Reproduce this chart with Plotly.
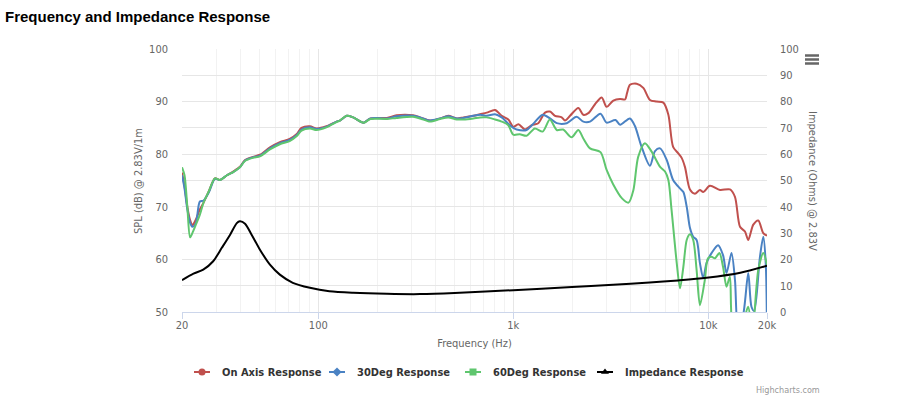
import plotly.graph_objects as go

# ---------------- data ----------------
freq_lo = [20, 20.6, 21.3, 22.0, 22.6, 23.5, 24.7, 25.8, 27.5, 29.5,
           31.3, 34, 36.6, 39.6, 42.1, 46.2, 50.2, 56.5, 63.5, 71.3,
           77.3, 82, 90.6, 98, 110, 124, 129, 140, 151, 171,
           185, 225, 252, 306, 333, 374, 421, 464, 513, 555,
           624, 675, 731, 806, 872, 943]
on_axis_lo = [76.5, 74, 70, 67.5, 66.5, 67.5, 69.5, 70.8, 73.0, 75.4,
              75.1, 76.0, 76.7, 77.6, 78.9, 79.5, 79.9, 81.3, 82.3, 82.9,
              83.8, 85.0, 85.3, 84.9, 85.3, 86.2, 86.4, 87.3, 87.0, 86.0,
              86.8, 86.9, 87.4, 87.4, 87.0, 86.4, 86.8, 87.3, 86.8, 87.0,
              87.3, 87.6, 87.9, 88.4, 87.3, 86.6]
deg30_lo = [76.0, 73.5, 69.5, 67, 66.2, 66.8, 71.0, 71.2, 72.8, 75.3,
            75.1, 76.0, 76.6, 77.5, 78.8, 79.4, 79.7, 81.1, 82.1, 82.7,
            83.6, 84.7, 85.1, 84.8, 85.2, 86.2, 86.4, 87.3, 87.0, 86.0,
            86.8, 86.8, 87.2, 87.3, 87.0, 86.4, 86.8, 87.2, 86.8, 86.9,
            87.3, 87.5, 87.3, 87.6, 87.0, 85.8]
deg60_lo = [77.5, 76, 70, 64.2, 65, 66.5, 68.5, 70.8, 73.0, 75.4,
            75.1, 76.0, 76.6, 77.5, 78.7, 79.3, 79.6, 80.9, 81.9, 82.5,
            83.4, 84.5, 84.9, 84.6, 85.1, 86.1, 86.4, 87.3, 87.0, 86.0,
            86.7, 86.7, 86.9, 87.1, 86.8, 86.2, 86.7, 87.0, 86.6, 86.6,
            86.8, 87.0, 87.0, 86.6, 86.2, 85.5]

freq_on_hi = [1000, 1062, 1148, 1242, 1343, 1454, 1542, 1636, 1771, 1841,
              1954, 2155, 2286, 2425, 2625, 2840, 3010, 3258, 3526, 3740,
              3830, 3966, 4290, 4641, 5021, 5430, 5883, 6240, 6600, 7000,
              7300, 7600, 8050, 8540, 9060, 9420, 10190, 11480, 12910, 13700,
              14540, 15420, 16030, 17010, 18040, 19140, 20000]
on_axis_hi = [85.2, 85.7, 84.7, 85.5, 85.9, 87.9, 88.1, 87.3, 87.0, 86.4,
              87.3, 88.8, 87.5, 87.8, 89.5, 90.8, 89.0, 90.2, 90.5, 90.4,
              91.6, 93.2, 93.4, 92.6, 90.3, 90.0, 89.8, 87.5, 81.4, 80.2,
              79.3, 77.5, 73.3, 72.5, 73.2, 72.8, 74.0, 73.2, 73.3, 71.9,
              66.2, 65.3, 63.7, 66.6, 67.4, 65.0, 64.5]

freq_30_hi = [1000, 1040, 1170, 1260, 1415, 1542, 1670, 1880, 2110, 2286,
              2475, 2800, 3010, 3340, 3530, 3960, 4200, 4530, 5020, 5330,
              5660, 6120, 6600, 7150, 7450, 7750, 8050, 8370, 8710, 9060,
              9420, 9790, 10390, 11230, 11900, 12400, 13150, 13700, 14200, 15100,
              16030, 16650, 17200, 18390, 19140, 19700, 20000]
deg30_hi = [85.0, 84.7, 84.6, 85.7, 87.5, 86.8, 85.9, 85.9, 87.1, 86.2,
            86.2, 87.7, 86.0, 86.5, 85.6, 86.8, 85.4, 81.6, 77.8, 80.6,
            81.1, 78.9, 75.1, 73.5, 72.8, 70.0, 66.0, 64.3, 63.7, 59.3,
            56.4, 59.3, 61.2, 62.7, 60.8, 57.4, 61.2, 56.1, 47, 49.5,
            57.4, 51.0, 50.2, 60.4, 64.3, 59.3, 46]

freq_60_hi = [1000, 1080, 1170, 1290, 1415, 1540, 1670, 1800, 1990, 2155,
              2286, 2475, 2800, 3010, 3250, 3610, 3900, 4130, 4370, 4730,
              5120, 5660, 6000, 6240, 6480, 6890, 7160, 7450, 7750, 8050,
              8370, 8710, 9060, 9600, 9960, 10390, 10800, 11400, 11900, 12400,
              12900, 13400, 14500, 16000, 16800, 18040, 19140, 20000]
deg60_hi = [83.7, 83.8, 83.5, 84.9, 84.3, 86.6, 84.6, 84.7, 83.2, 84.6,
            83.0, 81.1, 80.4, 77.0, 74.3, 71.6, 70.8, 73.2, 79.5, 82.1,
            80.5, 77.6, 76.7, 75.1, 69.4, 59.3, 54.5, 58.6, 63.7, 64.8,
            63.7, 58.0, 51.3, 56.1, 60.2, 60.5, 60.2, 61.2, 58.6, 54.8,
            56.7, 47, 46, 51, 46, 58.0, 61.2, 59.0]

freq_imp = [20, 22.9, 25.7, 28.9, 32, 35.3, 38.2, 39.6, 42.1, 45.5,
            50.2, 56.5, 63.5, 74, 90.6, 114, 151, 225, 333, 500,
            1000, 2000, 3250, 5000, 7000, 9800, 14600, 20000]
impedance = [12.1, 14.6, 16.1, 19.3, 24.4, 29.4, 33.8, 34.5, 33.6, 29.4,
             23.7, 18.0, 14.2, 11.1, 9.2, 7.9, 7.3, 6.9, 6.8, 7.2,
             8.3, 9.5, 10.4, 11.2, 12.0, 13.0, 14.9, 17.6]

series_names = ["On Axis Response", "30Deg Response", "60Deg Response", "Impedance Response"]
series_colors = ["#c0504d", "#4a82c3", "#5fc66e", "#000000"]
series_symbols = ["circle", "diamond", "square", "triangle-up"]

x_tickvals = [20, 100, 1000, 10000, 20000]
x_ticktext = ["20", "100", "1k", "10k", "20k"]
x_minor = [30, 40, 50, 60, 70, 80, 90, 200, 300, 400, 500, 600, 700, 800, 900,
           2000, 3000, 4000, 5000, 6000, 7000, 8000, 9000]

# ---------------- figure ----------------
W, H = 902, 406
L, R, T, B = 182, 135, 49, 94
PW, PH = W - L - R, H - T - B


def px(x):
    return (x - L) / PW


def py(y):
    return (H - B - y) / PH


FONT = "DejaVu Sans Condensed, DejaVu Sans, sans-serif"
fig = go.Figure()

spl_sets = [
    (freq_lo + freq_on_hi, on_axis_lo + on_axis_hi),
    (freq_lo + freq_30_hi, deg30_lo + deg30_hi),
    (freq_lo + freq_60_hi, deg60_lo + deg60_hi),
]
legend_ids = ["legend", "legend2", "legend3", "legend4"]
for i, (fx, fy) in enumerate(spl_sets):
    fig.add_trace(go.Scatter(
        x=fx, y=fy, mode="lines", name=series_names[i], legendgroup=series_names[i],
        showlegend=False, line=dict(color=series_colors[i], width=2, shape="spline", smoothing=0.8),
        hoverinfo="x+y"))
fig.add_trace(go.Scatter(
    x=freq_imp, y=impedance, mode="lines", name=series_names[3], legendgroup=series_names[3],
    showlegend=False, yaxis="y2",
    line=dict(color=series_colors[3], width=2, shape="spline", smoothing=0.8)))

# legend entries with markers (one legend per entry for Highcharts-like spacing)
for i in range(4):
    fig.add_trace(go.Scatter(
        x=[None], y=[None], mode="markers", name=series_names[i],
        legendgroup=series_names[i], legend=legend_ids[i],
        marker=dict(symbol=series_symbols[i], size=7, color=series_colors[i]),
        yaxis="y2" if i == 3 else "y"))

legend_text_x = [222, 357, 493, 625]
LEG_Y = 372
legend_style = dict(font=dict(family=FONT, size=11, color="#333", weight="bold"),
                    itemwidth=30, bgcolor="rgba(0,0,0,0)", orientation="h",
                    xanchor="left", yanchor="middle", y=py(LEG_Y))
legends = {lid: dict(legend_style, x=px(tx - 40)) for lid, tx in zip(legend_ids, legend_text_x)}

# short Highcharts-style legend line behind each legend marker
legend_lines = [dict(type="line", xref="paper", yref="paper", layer="below",
                     x0=px(tx - 28), x1=px(tx - 12), y0=py(LEG_Y), y1=py(LEG_Y),
                     line=dict(color=c, width=2))
                for tx, c in zip(legend_text_x, series_colors)]
menu_icon = [dict(type="line", xref="paper", yref="paper", x0=px(805), x1=px(819),
                  y0=py(yy), y1=py(yy), line=dict(color="#666", width=2.5))
             for yy in (55.5, 59.5, 63.5)]

fig.update_layout(
    width=W, height=H,
    margin=dict(l=L, r=R, t=T, b=B),
    paper_bgcolor="white", plot_bgcolor="white",
    title=dict(text="<b>Frequency and Impedance Response</b>", x=5 / W, xanchor="left",
               y=1 - 17 / H, yanchor="middle",
               font=dict(family="Liberation Sans, Arial, sans-serif", size=15, color="#000")),
    xaxis=dict(type="log", range=[1.30103, 4.30103], tickvals=x_tickvals, ticktext=x_ticktext,
               showgrid=True, gridcolor="#e6e6e6", zeroline=False,
               showline=True, linecolor="#ccd6eb", ticks="outside", ticklen=6, tickcolor="#ccd6eb",
               tickfont=dict(family=FONT, size=11, color="#666"), ticklabelstandoff=-3,
               minor=dict(tickvals=x_minor, showgrid=True, gridcolor="#f2f2f2", ticks=""),
               title=dict(text="Frequency (Hz)", font=dict(family=FONT, size=11, color="#666"),
                          standoff=8)),
    yaxis=dict(range=[50, 100], dtick=10, showgrid=True, gridcolor="#e6e6e6", zeroline=False,
               tickfont=dict(family=FONT, size=11, color="#666"), ticklabelstandoff=13),
    yaxis2=dict(range=[0, 100], dtick=10, overlaying="y", side="right", showgrid=True,
                gridcolor="#e6e6e6", zeroline=False,
                tickfont=dict(family=FONT, size=11, color="#666"), ticklabelstandoff=12),
    showlegend=True,
    annotations=[
        dict(text="SPL (dB) @ 2.83V/1m", xref="paper", yref="paper", x=px(138), y=py(181),
             xanchor="center", yanchor="middle",
             textangle=-90, showarrow=False, font=dict(family=FONT, size=11, color="#666")),
        dict(text="Impedance (Ohms) @ 2.83V", xref="paper", yref="paper", x=px(813), y=py(181),
             xanchor="center", yanchor="middle",
             textangle=90, showarrow=False, font=dict(family=FONT, size=11, color="#666")),
        dict(text="Highcharts.com", xref="paper", yref="paper", x=px(822), y=py(390),
             xanchor="right", yanchor="middle", showarrow=False,
             font=dict(family=FONT, size=9, color="#999")),
    ],
    shapes=legend_lines + menu_icon,
    **legends,
)

fig.write_html("out.html", config={"displayModeBar": False},
               post_script="document.body.style.margin='0';")
